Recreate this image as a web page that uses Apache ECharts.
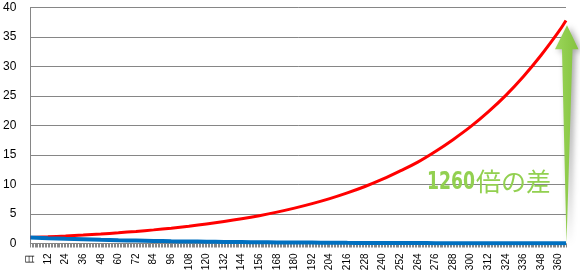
<!DOCTYPE html>
<html><head><meta charset="utf-8">
<script src="https://cdn.jsdelivr.net/npm/echarts@6/dist/echarts.min.js"></script>
<style>html,body{margin:0;padding:0;background:#fff}#c{width:580px;height:280px}</style>
</head><body><div id="c"></div>
<script>
// ---- data ----
const firstLabel = '日';
const lastDay = 365;
const days = Array.from({length: lastDay + 1}, (_, i) => i === 0 ? firstLabel : String(i));
const sampleDays = [0,12,24,36,48,60,72,84,96,108,120,132,144,156,168,180,192,204,216,228,240,252,264,276,288,300,312,324,336,348,360,365];
const growth  = [1,1.13,1.27,1.43,1.61,1.82,2.05,2.31,2.6,2.93,3.3,3.72,4.19,4.72,5.32,6.0,6.76,7.61,8.58,9.66,10.9,12.3,13.8,15.6,17.6,19.8,22.3,25.1,28.3,31.9,35.9,37.8];
const decline = [1,0.89,0.79,0.7,0.62,0.55,0.49,0.43,0.38,0.34,0.3,0.27,0.24,0.21,0.19,0.16,0.15,0.13,0.11,0.1,0.09,0.08,0.07,0.06,0.055,0.05,0.045,0.04,0.035,0.03,0.027,0.026];
const yMin = 0, yMax = 40, yStep = 5;
const noteNumber = '1260';
const noteText = '倍の差';
const arrowTopValue = 37;

// ---- chart ----
const chart = echarts.init(document.getElementById('c'), null, {renderer: 'canvas'});
const gray = '#868686';
chart.setOption({
  animation: false,
  grid: {left: 30, right: 14, top: 7.5, bottom: 36.5},
  xAxis: {
    type: 'category', data: days, boundaryGap: false,
    axisLine: {show: true, lineStyle: {color: gray}},
    axisTick: {show: true, interval: 0, length: 4, lineStyle: {color: gray}},
    axisLabel: {interval: 11, rotate: 90, margin: 10, fontSize: 10, color: '#000', fontFamily: 'Liberation Sans'},
    splitLine: {show: false}
  },
  yAxis: {
    type: 'value', min: yMin, max: yMax, interval: yStep,
    axisLine: {show: true, lineStyle: {color: gray}},
    axisTick: {show: false},
    axisLabel: {fontSize: 12, color: '#000', margin: 14, fontFamily: 'Liberation Sans'},
    splitLine: {show: true, lineStyle: {color: gray, width: 1}}
  },
  series: [
    {type: 'line', data: sampleDays.map((d, i) => [d, growth[i]]), smooth: 0.4, symbol: 'none',
     lineStyle: {color: '#FF0000', width: 3}},
    {type: 'line', data: sampleDays.map((d, i) => [d, decline[i]]), smooth: 0.4, symbol: 'none',
     lineStyle: {color: '#0070C0', width: 4}}
  ]
});

// ---- annotation: arrow + text ----
const ax = chart.convertToPixel({xAxisIndex: 0}, lastDay);
const yBase = chart.convertToPixel({yAxisIndex: 0}, 0);
const yTip = chart.convertToPixel({yAxisIndex: 0}, arrowTopValue);
const headBase = yTip + 24;
const green = '#92D050';
chart.setOption({
  graphic: [
    {type: 'polygon', z: 100,
     shape: {points: [[ax + 1, yTip], [ax + 12.5, headBase], [ax + 6.5, headBase], [ax + 0.5, yBase], [ax - 4, headBase], [ax - 11, headBase]]},
     style: {fill: new echarts.graphic.LinearGradient(0, 0, 1, 0, [{offset: 0, color: '#9BD65A'}, {offset: 1, color: '#84C23E'}]),
             shadowBlur: 6, shadowColor: 'rgba(0,0,0,0.35)', shadowOffsetX: 3, shadowOffsetY: 2}},
    {type: 'text', z: 100, x: 427, y: 183, scaleX: 0.72, originX: 0,
     style: {text: noteNumber, fill: green, font: 'bold 24px "DejaVu Sans"', verticalAlign: 'middle',
             shadowBlur: 4, shadowColor: 'rgba(0,0,0,0.35)', shadowOffsetX: 2, shadowOffsetY: 3}},
    {type: 'text', z: 100, x: 476, y: 181.5,
     style: {text: noteText, fill: green, font: '25px "Noto Sans CJK JP"', verticalAlign: 'middle',
             shadowBlur: 4, shadowColor: 'rgba(0,0,0,0.35)', shadowOffsetX: 2, shadowOffsetY: 3}}
  ]
});
</script></body></html>
